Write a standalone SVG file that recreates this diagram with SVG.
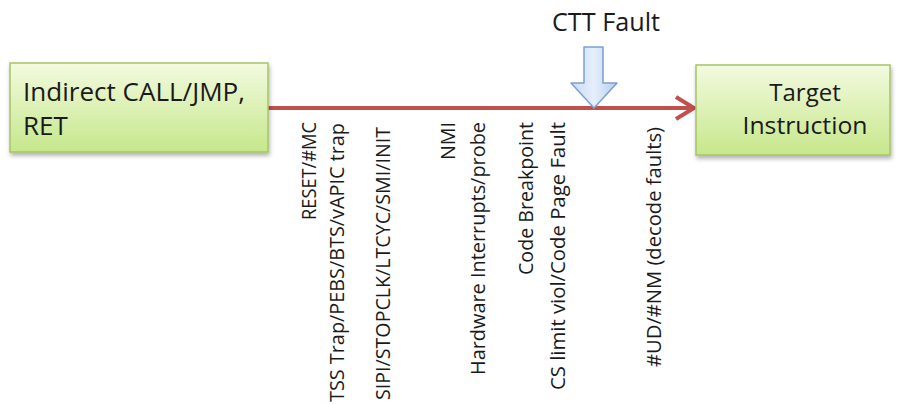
<svg xmlns="http://www.w3.org/2000/svg" width="903" height="404" viewBox="0 0 903 404">
<defs>
<linearGradient id="g" x1="0" y1="0" x2="0" y2="1"><stop offset="0" stop-color="#f3fadf"/><stop offset="1" stop-color="#c6e78b"/></linearGradient>
<linearGradient id="b" x1="0" y1="0" x2="1" y2="0"><stop offset="0" stop-color="#c7daf4"/><stop offset="0.5" stop-color="#e6effb"/><stop offset="1" stop-color="#b4cdef"/></linearGradient>
<filter id="sh" x="-10%" y="-10%" width="130%" height="140%"><feDropShadow dx="1" dy="3" stdDeviation="2" flood-color="#000" flood-opacity="0.3"/></filter>
</defs>
<style>
.box{fill:url(#g);stroke:#a5c467;stroke-width:1.5;filter:url(#sh)}
.t{font-family:"Open Sans","Liberation Sans",sans-serif;font-size:24px;fill:#1a1a1a}
.v{font-family:"Open Sans","Liberation Sans",sans-serif;font-size:19.5px;fill:#1a1a1a;text-anchor:end}
</style>
<rect width="903" height="404" fill="#fff"/>
<g id="connectors">
<line x1="268" y1="108" x2="692" y2="108" stroke="#c0504d" stroke-width="4"/>
<polyline points="676,97 694,108 676,119" fill="none" stroke="#c0504d" stroke-width="4" stroke-linejoin="miter"/>
</g>
<g id="src">
<rect class="box" x="10" y="63" width="258" height="89"/>
<text class="t" x="23" y="101" style="font-size:26px" textLength="222" lengthAdjust="spacingAndGlyphs">Indirect CALL/JMP,</text>
<text class="t" x="23" y="135" style="font-size:26px">RET</text>
</g>
<g id="target">
<rect class="box" x="696" y="65" width="194" height="90"/>
<text class="t" x="805" y="101" text-anchor="middle">Target</text>
<text class="t" x="805" y="134" text-anchor="middle" textLength="125" lengthAdjust="spacingAndGlyphs">Instruction</text>
</g>
<g id="ctt">
<text class="t" x="606" y="31" text-anchor="middle" style="font-size:25px" textLength="108" lengthAdjust="spacingAndGlyphs">CTT Fault</text>
<path d="M584,47 H603 V83 H617 L594,108 L571,83 H584 Z" fill="url(#b)" stroke="#7e9fd2" stroke-width="1.5" stroke-linejoin="round"/>
</g>
<g id="events">
<text class="v" transform="translate(316,122) rotate(-90)" textLength="98" lengthAdjust="spacingAndGlyphs">RESET/#MC</text>
<text class="v" transform="translate(344,123) rotate(-90)" textLength="279" lengthAdjust="spacingAndGlyphs">TSS Trap/PEBS/BTS/vAPIC trap</text>
<text class="v" transform="translate(390,127) rotate(-90)" textLength="273" lengthAdjust="spacingAndGlyphs">SIPI/STOPCLK/LTCYC/SMI/INIT</text>
<text class="v" transform="translate(455,122) rotate(-90)" textLength="38" lengthAdjust="spacingAndGlyphs">NMI</text>
<text class="v" transform="translate(485,122) rotate(-90)" textLength="253" lengthAdjust="spacingAndGlyphs">Hardware Interrupts/probe</text>
<text class="v" transform="translate(533,122) rotate(-90)" textLength="153" lengthAdjust="spacingAndGlyphs">Code Breakpoint</text>
<text class="v" transform="translate(565,122) rotate(-90)" textLength="268" lengthAdjust="spacingAndGlyphs">CS limit viol/Code Page Fault</text>
<text class="v" transform="translate(661,127) rotate(-90)" textLength="240" lengthAdjust="spacingAndGlyphs">#UD/#NM (decode faults)</text>
</g>
</svg>
